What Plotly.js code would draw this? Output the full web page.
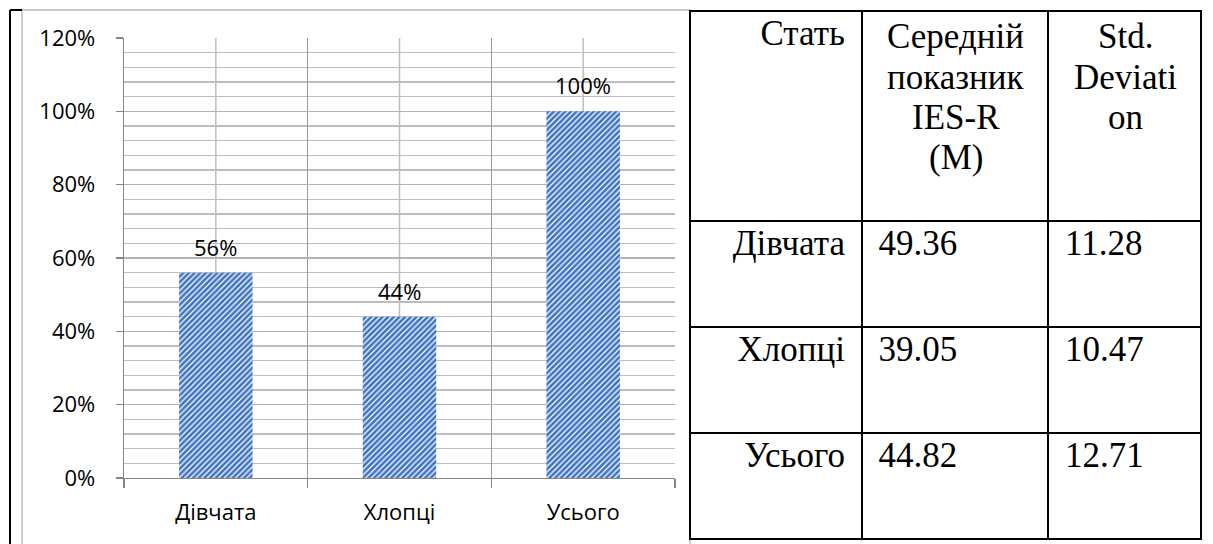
<!DOCTYPE html>
<html>
<head>
<meta charset="utf-8">
<script src="https://cdn.plot.ly/plotly-3.0.1.min.js"></script>
<style>html,body{margin:0;padding:0;background:#fff;} #chart{width:1213px;height:544px;}</style>
</head>
<body>
<div id="chart"></div>
<script>
// ---- data ----
const categories = ['Дівчата', 'Хлопці', 'Усього'];
const shares = [0.56, 0.44, 1.00];
const tableHeader = [['Стать'], ['Середній', 'показник', 'IES-R', '(M)'], ['Std.', 'Deviati', 'on']];
const tableGroups = ['Дівчата', 'Хлопці', 'Усього'];
const tableMeans = ['49.36', '39.05', '44.82'];
const tableSD = ['11.28', '10.47', '12.71'];

const W = 1213, H = 544;
const px = v => v / W, py = v => 1 - v / H;
const chartFont = 'Open Sans';
const serif = 'Liberation Serif';
const NB = '\u00a0';

const bar = {
  type: 'bar', x: categories, y: shares, width: 0.4,
  marker: {
    color: '#3f74c0',
    line: {width: 0},
    pattern: {shape: '/', fgcolor: '#3f74c0', bgcolor: '#ffffff', size: 4, solidity: 0.68, fillmode: 'replace'}
  },
  hoverinfo: 'skip', showlegend: false
};

const tblX0 = 690, tblX1 = 1202;
const colW = [172, 187, 153];
const table = {
  type: 'table',
  domain: {x: [px(tblX0), px(tblX1)], y: [0, py(11)]},
  columnwidth: colW,
  header: {
    values: [tableHeader[0][0] + NB, '', ''],
    align: ['right', 'center', 'center'],
    height: 210,
    line: {color: '#000', width: 2},
    fill: {color: '#fff'},
    font: {family: serif, size: 35, color: '#000'}
  },
  cells: {
    values: [tableGroups.map(t => t + NB), tableMeans.map(t => NB + t), tableSD.map(t => NB + t)],
    align: ['right', 'left', 'left'],
    height: 106,
    line: {color: '#000', width: 2},
    fill: {color: '#fff'},
    font: {family: serif, size: 35, color: '#000'}
  }
};

const shapes = [
  // chart frame
  {type: 'rect', xref: 'paper', yref: 'paper', x0: px(22), x1: px(690), y0: py(560), y1: py(10), line: {color: '#b4b4b4', width: 1.3}, layer: 'below'},
  // outer black border (left)
  {type: 'line', xref: 'paper', yref: 'paper', x0: px(10), x1: px(10), y0: py(560), y1: py(10), line: {color: '#000', width: 2}},
  {type: 'line', xref: 'paper', yref: 'paper', x0: px(10), x1: px(22), y0: py(10), y1: py(10), line: {color: '#000', width: 2}}
];
// minor vertical gridlines at category centres
categories.forEach(c => shapes.push({
  type: 'line', xref: 'x', yref: 'y', x0: c, x1: c, y0: 0, y1: 1.2,
  line: {color: '#bdbdbd', width: 1.5}, layer: 'below'
}));

const annotations = categories.map((c, i) => ({
  x: c, y: shares[i], xref: 'x', yref: 'y',
  text: Math.round(shares[i] * 100) + '%',
  showarrow: false, yanchor: 'bottom', yshift: 9,
  font: {family: chartFont, size: 22, color: '#000'}
}));

// centred multi-line header text for columns 2 and 3
const totalW = colW.reduce((a, b) => a + b, 0);
let acc = 0;
colW.forEach((w, ci) => {
  const cx = tblX0 + (tblX1 - tblX0) * (acc + w / 2) / totalW;
  acc += w;
  if (ci === 0) return;
  tableHeader[ci].forEach((line, li) => annotations.push({
    xref: 'paper', yref: 'paper', x: px(cx), y: py(37 + li * 40),
    xanchor: 'center', yanchor: 'middle', showarrow: false,
    text: line, font: {family: serif, size: 35, color: '#000'}
  }));
});

const layout = {
  width: W, height: H,
  margin: {l: 0, r: 0, t: 0, b: 0},
  paper_bgcolor: '#fff', plot_bgcolor: '#fff',
  showlegend: false,
  xaxis: {
    domain: [px(124), px(675)], type: 'category', tickson: 'boundaries',
    showgrid: true, gridcolor: '#999999', gridwidth: 1.3,
    ticks: 'outside', ticklen: 9, tickcolor: '#868686', tickwidth: 1.3,
    showline: true, linecolor: '#868686', linewidth: 1.3,
    tickfont: {family: chartFont, size: 22, color: '#000'},
    ticklabelstandoff: 14, fixedrange: true
  },
  yaxis: {
    domain: [py(478), py(38)], range: [0, 1.2], dtick: 0.2, tickformat: '.0%',
    showgrid: true, gridcolor: '#b3b3b3', gridwidth: 1.5, zeroline: false,
    ticks: 'outside', ticklen: 7, tickcolor: '#868686', tickwidth: 1.3,
    showline: true, linecolor: '#868686', linewidth: 1.3,
    minor: {dtick: 0.04, showgrid: true, gridcolor: '#bdbdbd', gridwidth: 1.5, ticks: ''},
    tickfont: {family: chartFont, size: 22, color: '#000'},
    ticklabelstandoff: 16, fixedrange: true
  },
  shapes: shapes,
  annotations: annotations
};

Plotly.newPlot('chart', [bar, table], layout, {displayModeBar: false, staticPlot: true});
</script>
</body>
</html>
